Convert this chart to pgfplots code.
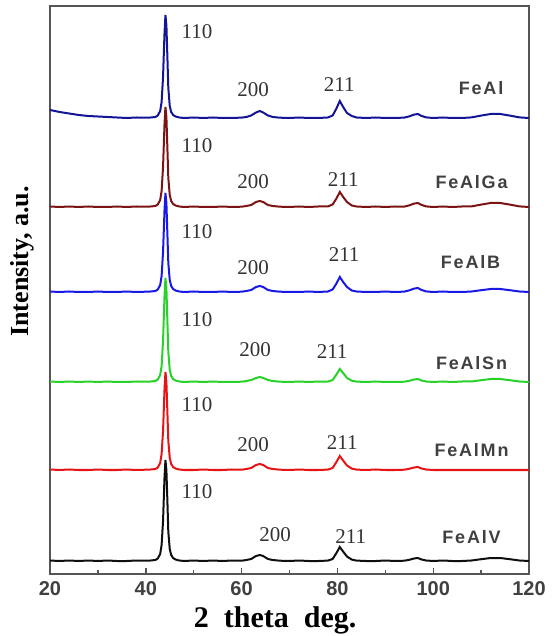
\documentclass[border=0pt]{standalone}
\usepackage{fontspec}
\setmainfont{Liberation Serif}
\setsansfont{Liberation Sans}
\newfontfamily\samplefont[LetterSpace=10]{Liberation Sans}
\usepackage{pgfplots}
\usepackage{pgfplotstable}
\pgfplotsset{compat=1.18}

\definecolor{cAl}{RGB}{20,20,150}
\definecolor{cGa}{RGB}{125,20,20}
\definecolor{cB}{RGB}{25,25,230}
\definecolor{cSn}{RGB}{40,210,40}
\definecolor{cMn}{RGB}{230,20,20}
\definecolor{cV}{RGB}{15,15,15}
\definecolor{frame}{RGB}{85,85,85}

% 2theta and stacked intensities (offset, arbitrary units)
\pgfplotstableread{
x     Al     Ga     B      Sn     Mn     V
20    464    367.5  282.5  192.5  104.5  13.5
22    462    367    282    192    104    13
24    460.5  367.5  282.5  192.5  104.5  13.5
26    459    367    282    192    104    13
28    458    367.5  282    192.5  104    13.5
30    457.5  367    282.5  192    104.5  13
32    457    367    282    192.5  104    13.5
34    456.5  367.5  282    192    104    13
36    456    367    282.5  192    104.5  13
38    456.5  367.5  282    192.5  104    13.5
40    456.3  367.3  282.3  192.3  104.3  13.3
41    456.5  367.5  282.5  192.5  104.5  13.5
42    457    368    283    193    105    14
42.5  458.5  369.5  284.5  194.5  106.5  15.5
43    463    374    289    199    111    20
43.3  472    383    298    208    120    29
43.6  497    407    322    233    143    53
43.9  540    449    363    277    184    96
44.1  559    467    381    296    202    114
44.3  549    457    371    286    192    104
44.5  518    427    341    254    163    74
44.7  486    396    311    222    133    42
45.0  468    379    294    204    116    25
45.3  462    373    288    198    110    19
45.7  459    370    285    195    107    16
46.2  457.5  368.5  283.5  193.5  105.5  14.5
47    456.5  367.5  282.5  192.5  104.5  13.5
48    456    367    282    192    104    13
50    456.5  367.5  282.5  192.5  104    13.5
52    456    367    282    192    104.5  13
54    456.5  367    282    192.5  104    13.5
56    456    367.5  282.5  192    104    13
58    456    367    282    192    104.5  13.5
60    456.4  367.3  282.3  192.3  104.3  13.3
61    457    368    283    193    105    14
62    458.5  369    284    194    106    15
63    461.5  372    287    196    109    18
63.8  463    373    288    197    110    19
64.5  461.5  372    287    196    109    18
65.5  458.5  369    284    194    106    15
66.5  457    368    283    193    105    14
68    456.3  367.3  282.3  192.3  104.3  13.3
70    456    367    282    192    104    13
72    456.5  367.5  282    192.5  104.5  13.5
74    456    367    282.5  192    104    13
76    456    367.5  282    192.5  104    13
78    456.5  367.5  282.5  192.4  104.4  13.4
79    458.5  369.5  284.5  194    106    15
79.8  465.5  375.5  290.5  199.5  112    21
80.5  473    382    297    205    118    27
81.2  467    377    292    201    113.4  22.4
82    461    372    287    196    108.5  17.5
83    458    368.5  283.5  193.3  105.4  14.4
84    456.5  367.5  282.5  192.4  104.4  13.4
86    456    367    282    192    104    13
88    456.5  367.5  282    192.5  104.5  13
90    456    367    282.5  192    104    13.5
92    456    367.5  282    192    104    13
94    456.4  367.4  282.4  192.3  104.3  13.3
95    457.6  368.6  283.6  193.2  105.2  14.2
96    459.4  370.4  285.4  194.5  106.5  15.5
96.8  460    371    286    195    107    16
97.5  458.2  369.2  284.2  193.6  105.6  14.6
98.5  456.6  367.6  282.6  192.5  104.5  13.5
100   456    367    282    192    104    13
102   456.5  367.5  282.5  192.5  104    13.5
104   456    367    282    192    104    13
106   456    367.5  282    192.5  104    13
108   456.6  367.6  282.5  192.5  104    13.5
110   458.4  369.4  283.8  193.8  104    14.8
112   460    371    285    195    104    16
114   460    371    285    195    104    16
116   458.4  369.4  283.8  193.8  104    14.8
118   456.6  367.6  282.5  192.5  104    13.5
120   456    367    282    192    104    13
}\xrd

\begin{document}
\begin{tikzpicture}
\useasboundingbox (-25pt,-31pt) rectangle (253.5pt,287pt);
\begin{axis}[
    scale only axis,
    width=239.5pt, height=284pt,
    xmin=20, xmax=120,
    ymin=0, ymax=568,
    xtick={20,40,...,120},
    minor x tick num=1,
    xtick pos=lower,
    ytick=\empty,
    tick align=inside,
    major tick length=3pt,
    minor tick length=2pt,
    axis line style={frame, line width=0.8pt},
    tick style={frame, line width=0.7pt},
    /pgf/number format/assume math mode=true,
    xticklabel style={font=\fontsize{10}{12}\sffamily\bfseries\color{black!75}},
    xlabel={2\ \ theta\ \ deg.},
    xlabel style={font=\fontsize{15}{17}\bfseries, at={(axis description cs:0.47,-0.082)}, anchor=center},
    ylabel={Intensity, a.u.},
    ylabel style={font=\fontsize{13}{15}\bfseries, at={(axis description cs:-0.058,0.55)}, anchor=center},
    every axis plot/.append style={line width=1pt, no marks},
    clip=false,
]
\addplot[cAl] table[x=x, y=Al] {\xrd};
\addplot[cGa] table[x=x, y=Ga] {\xrd};
\addplot[cB]  table[x=x, y=B]  {\xrd};
\addplot[cSn] table[x=x, y=Sn] {\xrd};
\addplot[cMn] table[x=x, y=Mn] {\xrd};
\addplot[cV]  table[x=x, y=V]  {\xrd};

\begin{scope}[every node/.style={font=\fontsize{10.5}{12}\selectfont, text=black!80, inner sep=0pt}]
\node at (axis cs:50.7,542) {110};
\node at (axis cs:62.4,484) {200};
\node at (axis cs:80.4,489) {211};
\node at (axis cs:50.7,428) {110};
\node at (axis cs:62.4,392) {200};
\node at (axis cs:81.2,394) {211};
\node at (axis cs:50.7,342) {110};
\node at (axis cs:62.4,306) {200};
\node at (axis cs:81.4,319) {211};
\node at (axis cs:50.7,254) {110};
\node at (axis cs:62.8,224) {200};
\node at (axis cs:78.9,222) {211};
\node at (axis cs:50.7,169) {110};
\node at (axis cs:62.4,129) {200};
\node at (axis cs:81.0,131) {211};
\node at (axis cs:50.7,82) {110};
\node at (axis cs:67.0,39) {200};
\node at (axis cs:82.8,37) {211};
\end{scope}

\begin{scope}[every node/.style={font=\samplefont\bfseries\fontsize{9}{11}\selectfont, text=black!75, inner sep=0pt}]
\node at (axis cs:110.0,486) {FeAl};
\node at (axis cs:108.0,392) {FeAlGa};
\node at (axis cs:107.8,312) {FeAlB};
\node at (axis cs:108.0,211) {FeAlSn};
\node at (axis cs:108.0,124) {FeAlMn};
\node at (axis cs:108.0,37) {FeAlV};
\end{scope}
\end{axis}
\end{tikzpicture}
\end{document}
